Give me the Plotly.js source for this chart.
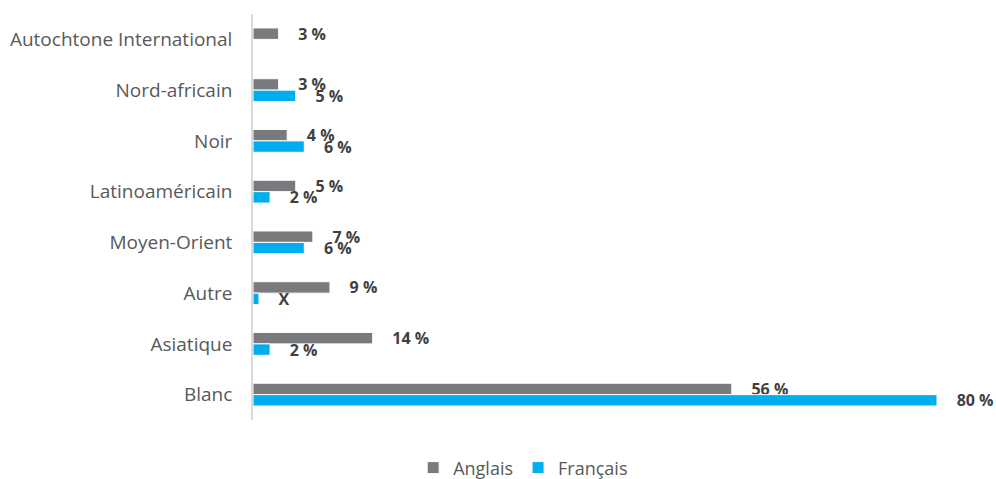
<!DOCTYPE html>
<html>
<head>
<meta charset="utf-8">
<script src="https://cdn.plot.ly/plotly-3.0.1.min.js"></script>
<style>html,body{margin:0;padding:0;background:#fff;}#chart{width:996px;height:479px;}</style>
</head>
<body>
<div id="chart"></div>
<script>
const categories = ["Autochtone International", "Nord-africain", "Noir", "Latinoaméricain", "Moyen-Orient", "Autre", "Asiatique", "Blanc"];
const anglaisValues = [3, 3, 4, 5, 7, 9, 14, 56];
const anglaisLabels = ["3 %", "3 %", "4 %", "5 %", "7 %", "9 %", "14 %", "56 %"];
const francaisValues = [null, 5, 6, 2, 6, 0.7, 2, 80];
const francaisLabels = ["", "5 %", "6 %", "2 %", "6 %", "X", "2 %", "80 %"];

const labelFont = {family: "Open Sans, sans-serif", size: 16, color: "#404040", weight: 700};

const traces = [
  {
    type: "bar", orientation: "h", name: "Anglais",
    y: categories, x: anglaisValues,
    text: anglaisLabels, texttemplate: "    %{text}", textposition: "outside",
    constraintext: "none",
    textfont: labelFont, cliponaxis: false,
    marker: {color: "#797A7D", line: {color: "#ffffff", width: 1}},
    hoverinfo: "skip"
  },
  {
    type: "bar", orientation: "h", name: "Français",
    y: categories, x: francaisValues,
    text: francaisLabels, texttemplate: "    %{text}", textposition: "outside",
    constraintext: "none",
    textfont: labelFont, cliponaxis: false,
    marker: {color: "#00AEEF", line: {color: "#ffffff", width: 1}},
    hoverinfo: "skip"
  }
];

const layout = {
  width: 996, height: 479,
  margin: {l: 253, r: 59, t: 14, b: 59, autoexpand: false},
  paper_bgcolor: "#ffffff", plot_bgcolor: "#ffffff",
  barmode: "group", bargap: 0.55, bargroupgap: 0,
  font: {family: "Open Sans, sans-serif", size: 16, color: "#595959"},
  xaxis: {range: [0, 80], showgrid: false, zeroline: false, showticklabels: false, showline: false, fixedrange: true},
  yaxis: {autorange: "reversed", showgrid: false, zeroline: false, showline: true, linecolor: "#D9D9D9", linewidth: 2,
          ticks: "", ticksuffix: "   ", tickfont: {size: 19, color: "#595959"}},
  showlegend: true,
  legend: {orientation: "h", x: 0.395, xanchor: "center", y: -0.118, yanchor: "middle",
           font: {size: 18, color: "#595959"}, itemwidth: 30, traceorder: "normal"}
};

Plotly.newPlot("chart", traces, layout, {staticPlot: true, displayModeBar: false});
</script>
</body>
</html>
